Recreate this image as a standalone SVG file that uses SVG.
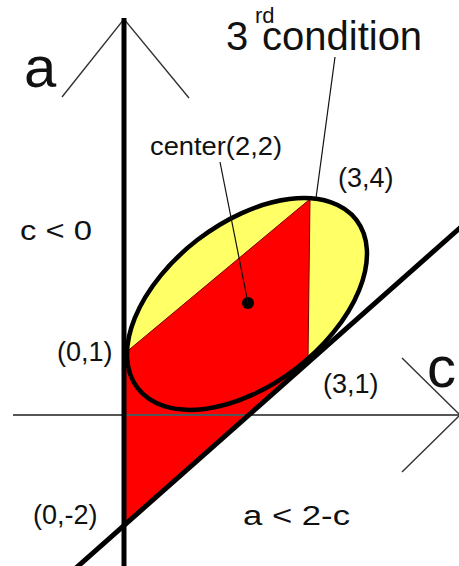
<svg xmlns="http://www.w3.org/2000/svg" width="459" height="566" viewBox="0 0 459 566">
<style>
text{font-family:"Liberation Sans",Arial,sans-serif;fill:#111}
.lbl{font-size:27px}
.thin{stroke:#333;stroke-width:1.4;fill:none}
.leader{stroke:#111;stroke-width:1.2;fill:none}
</style>
<rect width="459" height="566" fill="#fff"/>
<g id="regions">
<ellipse cx="247" cy="304" rx="138" ry="81" transform="rotate(-37.6 247 304)" fill="#ffff66"/>
<path d="M124,354 L310,199 L308,362 L124,525 Z" fill="#ff0000"/>
<path d="M124,354 L310,199 L308,360" fill="none" stroke="#7a0000" stroke-width="1"/>
</g>
<g id="axes">
<line x1="13" y1="415" x2="460" y2="415" stroke="#555" stroke-width="2"/>
<path class="thin" d="M402,358 L460,415 L402,472"/>
<path class="thin" d="M62,97 L124,19 L189,98"/>
</g>
<g id="ellipse-outline">
<ellipse cx="247" cy="304" rx="138" ry="81" transform="rotate(-37.6 247 304)" fill="none" stroke="#000" stroke-width="4.5"/>
</g>
<g id="boundary">
<line x1="76" y1="568" x2="461" y2="227" stroke="#000" stroke-width="5"/>
<line x1="124" y1="18" x2="124" y2="566" stroke="#000" stroke-width="5"/>
</g>
<g id="center-dot">
<circle cx="248" cy="303" r="6" fill="#000"/>
</g>
<g id="connectors">
<line class="leader" x1="220" y1="162" x2="248" y2="303"/>
<line class="leader" x1="335" y1="57" x2="316" y2="198"/>
</g>
<g id="labels">
<text x="24" y="87" font-size="58">a</text>
<text x="427" y="387" font-size="58">c</text>
<text x="226" y="50" font-size="40">3<tspan x="255" dy="-27" font-size="22">rd</tspan><tspan x="262" dy="27">condition</tspan></text>
<text x="150" y="155" font-size="26" textLength="132" lengthAdjust="spacingAndGlyphs">center(2,2)</text>
<text class="lbl" x="338" y="187">(3,4)</text>
<text x="20" y="240" font-size="27" textLength="72" lengthAdjust="spacingAndGlyphs">c &lt; 0</text>
<text class="lbl" x="57" y="361">(0,1)</text>
<text class="lbl" x="323" y="393">(3,1)</text>
<text class="lbl" x="33" y="524">(0,-2)</text>
<text x="243" y="525" font-size="27" textLength="107" lengthAdjust="spacingAndGlyphs">a &lt; 2-c</text>
</g>
</svg>
